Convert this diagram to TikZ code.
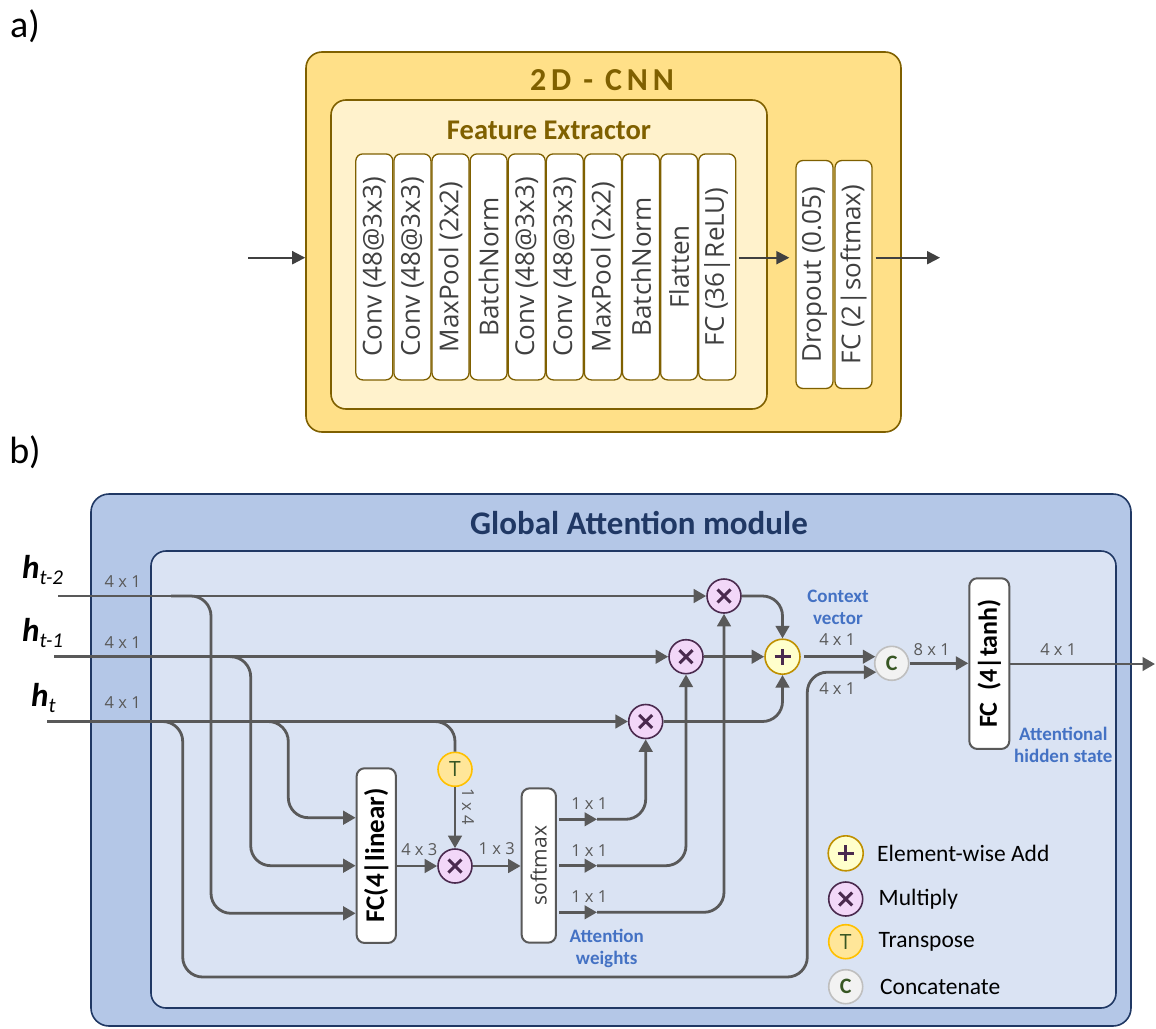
\documentclass[tikz,border=0pt]{standalone}
\usepackage{fontspec}
\setmainfont{Carlito}
\newfontfamily\labfont{Open Sans}
\newfontfamily\titlefont[LetterSpace=15]{Carlito}
\usetikzlibrary{arrows.meta,calc}

\definecolor{cnnfill}{HTML}{FFE088}
\definecolor{cnnline}{HTML}{7F6000}
\definecolor{fefill}{HTML}{FFF2CC}
\definecolor{txtgray}{HTML}{404040}
\definecolor{lgray}{HTML}{595959}
\definecolor{gafill}{HTML}{B4C7E7}
\definecolor{gainner}{HTML}{DAE3F3}
\definecolor{navy}{HTML}{203864}
\definecolor{lblue}{HTML}{4472C4}
\definecolor{mulfill}{HTML}{F2D7F8}
\definecolor{mulline}{HTML}{4A2A4E}
\definecolor{addfill}{HTML}{FFFFCC}
\definecolor{addline}{HTML}{BF9000}
\definecolor{trfill}{HTML}{FFE699}
\definecolor{trline}{HTML}{FFC000}
\definecolor{catfill}{HTML}{F2F2F2}
\definecolor{catline}{HTML}{BFBFBF}
\definecolor{dgreen}{HTML}{375623}

\tikzset{
  panel/.style={font=\fontsize{38}{38}\selectfont, inner sep=0pt},
  layerbox/.style={draw=cnnline, fill=white, line width=1.3pt, rounded corners=7pt,
    rotate=90, minimum width=226pt, minimum height=37pt, inner sep=0pt,
    font=\labfont\fontsize{26}{26}\selectfont, text=txtgray},
  headbox/.style={draw=cnnline, fill=white, line width=1.3pt, rounded corners=7pt,
    rotate=90, minimum width=228pt, minimum height=37pt, inner sep=0pt,
    font=\labfont\fontsize{26}{26}\selectfont, text=txtgray},
  arrA/.style={draw=txtgray, line width=2pt, -{Triangle[length=13pt,width=13pt]}},
  conn/.style={draw=lgray, line width=2.8pt, rounded corners=20pt},
  arr/.style={-{Triangle[length=12.5pt,width=13.5pt]}},
  opbox/.style={draw=lgray, fill=white, line width=2pt, rounded corners=8pt,
    rotate=90, inner sep=0pt},
  dim/.style={font=\labfont\fontsize{16.5}{16.5}\selectfont, text=lgray, inner sep=0pt},
  note/.style={font=\bfseries\fontsize{19}{22}\selectfont, text=lblue, align=center, inner sep=0pt},
  mul/.style={circle, draw=mulline, fill=mulfill, line width=1.6pt, minimum size=34pt, inner sep=0pt,
    path picture={
      \draw[mulline, line width=3pt]
        ([shift={(-6.5pt,-6.5pt)}]path picture bounding box.center) -- ([shift={(6.5pt,6.5pt)}]path picture bounding box.center)
        ([shift={(-6.5pt,6.5pt)}]path picture bounding box.center) -- ([shift={(6.5pt,-6.5pt)}]path picture bounding box.center);}},
  add/.style={circle, draw=addline, fill=addfill, line width=1.6pt, minimum size=35pt, inner sep=0pt,
    path picture={
      \draw[mulline, line width=3pt]
        ([shift={(-8pt,0pt)}]path picture bounding box.center) -- ([shift={(8pt,0pt)}]path picture bounding box.center)
        ([shift={(0pt,-8pt)}]path picture bounding box.center) -- ([shift={(0pt,8pt)}]path picture bounding box.center);}},
  trn/.style={circle, draw=trline, fill=trfill, line width=1.6pt, minimum size=34pt, inner sep=0pt,
    font=\labfont\fontsize{21}{21}\selectfont, text=dgreen},
  cat/.style={circle, draw=catline, fill=catfill, line width=1.6pt, minimum size=34pt, inner sep=0pt,
    font=\bfseries\fontsize{22}{22}\selectfont, text=dgreen},
  legtext/.style={anchor=west, inner sep=0pt, font=\fontsize{23.5}{23.5}\selectfont, text=black},
}

\begin{document}
\begin{tikzpicture}[x=1pt,y=-1pt]
\useasboundingbox (0,0) rectangle (1156,1028);

% ---------------- a) 2D-CNN ----------------
\node[panel] (pa) at (25,26) {a)};
\node[draw=cnnline, fill=cnnfill, line width=1.6pt, rounded corners=16pt,
      minimum width=595pt, minimum height=380pt, inner sep=0pt] (cnn) at (603.5,242) {};
\node[font=\titlefont\bfseries\fontsize{32}{32}\selectfont, text=cnnline, inner sep=0pt] (cnntitle) at (602,80) {2D - CNN};
\node[draw=cnnline, fill=fefill, line width=1.6pt, rounded corners=15pt,
      minimum width=436pt, minimum height=309pt, inner sep=0pt] (fe) at (549,254.5) {};
\node[font=\bfseries\fontsize{28.5}{28.5}\selectfont, text=cnnline, inner sep=0pt] (fetitle) at (549,130) {Feature Extractor};

\foreach \lbl [count=\i from 0] in {Conv (48@3x3),Conv (48@3x3),MaxPool (2x2),BatchNorm,Conv (48@3x3),Conv (48@3x3),MaxPool (2x2),BatchNorm,Flatten,FC (36|ReLU)}
  \node[layerbox] (L\i) at (374.3+38.1*\i,266.9) {\lbl};

\node[headbox] (drop) at (814.5,274.5) {Dropout (0.05)};
\node[headbox] (fc2) at (853.5,274.5) {FC (2|softmax)};

\coordinate (ya) at (0,257.7);
\coordinate (ain) at (248,257.7);
\coordinate (aout) at (940,257.7);
\draw[arrA] (ain) -- (cnn.west |- ya);
\draw[arrA] ([xshift=3pt]L9.south |- ya) -- ([xshift=-6pt]drop.north |- ya);
\draw[arrA] ([xshift=3pt]fc2.south |- ya) -- (aout);

% ---------------- b) Global attention ----------------
\node[panel] (pb) at (25,452) {b)};
\node[draw=navy, fill=gafill, line width=1.6pt, rounded corners=18pt,
      minimum width=1040pt, minimum height=532pt, inner sep=0pt] (ga) at (611,760) {};
\node[font=\bfseries\fontsize{33}{33}\selectfont, text=navy, inner sep=0pt] (gatitle) at (639,523) {Global Attention module};
\node[draw=navy, fill=gainner, line width=1.6pt, rounded corners=15pt,
      minimum width=965pt, minimum height=457pt, inner sep=0pt] (gin) at (633.5,779.5) {};

% inputs
\node[anchor=base west, inner sep=0pt] (h2) at (22,578)
  {\fontsize{33}{33}\selectfont\bfseries\itshape h\raisebox{-6pt}{\mdseries\fontsize{21}{21}\selectfont t-2}};
\node[anchor=base west, inner sep=0pt] (h1) at (22,641.5)
  {\fontsize{33}{33}\selectfont\bfseries\itshape h\raisebox{-6pt}{\mdseries\fontsize{21}{21}\selectfont t-1}};
\node[anchor=base west, inner sep=0pt] (h0) at (31,706.5)
  {\fontsize{33}{33}\selectfont\bfseries\itshape h\raisebox{-6pt}{\mdseries\fontsize{21}{21}\selectfont t}};
\node[dim] (d2) at (122.7,582) {4 x 1};
\node[dim] (d1) at (122.7,643) {4 x 1};
\node[dim] (d0) at (122.7,703) {4 x 1};

\coordinate (s2) at (58,596);
\coordinate (s1) at (54,656.7);
\coordinate (s0) at (47,721.5);

% operators
\node[mul] (m2) at (724,596) {};
\node[mul] (m1) at (686,656.7) {};
\node[mul] (m0) at (645.7,721.5) {};
\node[add] (pl) at (782.5,656.7) {};
\node[cat] (cc) at (891.7,663.3) {C};
\node[trn] (tt) at (455,769.3) {T};
\node[mul] (mx) at (455,866) {};

\node[opbox, minimum width=174.7pt, minimum height=39.3pt,
      font=\bfseries\fontsize{27}{27}\selectfont, text=black] (fcl) at (376.3,855.6) {FC(4|linear)};
\node[opbox, minimum width=154.4pt, minimum height=34.3pt,
      font=\labfont\fontsize{21}{21}\selectfont, text=txtgray] (sm) at (538.8,865.5) {softmax};
\node[opbox, minimum width=170.7pt, minimum height=40pt,
      font=\bfseries\fontsize{26}{26}\selectfont, text=black] (fct) at (989.3,663.6) {FC\ \ (4|tanh)};

% main input lines
\draw[conn,arr] (s2) -- (m2.west);
\draw[conn,arr] (s1) -- (m1.west);
\draw[conn,arr] (s0) -- (m0.west);

% branches into the scoring layer
\coordinate (b2) at (171,596);
\coordinate (b1) at (230,656.7);
\coordinate (b0a) at (268,721.5);
\coordinate (b0b) at (162,721.5);
\coordinate (b0t) at (435,721.5);
\draw[conn,arr] (b2) -- (211,596) -- (211,913.3) -- (fcl.north |- 0,913.3);
\draw[conn,arr] (b1) -- (250.7,656.7) -- (250.7,865.7) -- (fcl.north |- 0,865.7);
\draw[conn,arr] (b0a) -- (288.3,721.5) -- (288.3,817.7) -- (fcl.north |- 0,817.7);
\draw[conn] (b0t) -| (tt.north);
\draw[conn,arr] (tt.south) -- (mx.north);
\node[dim, rotate=-90] (d14) at (468,807) {1 x 4};

% score and softmax
\draw[conn,arr] (fcl.south |- mx) -- (mx.west);
\node[dim] (d43) at (419.3,849.5) {4 x 3};
\draw[conn,arr] (mx.east) -- (mx.east -| sm.north);
\node[dim] (d13) at (496.7,849) {1 x 3};

% attention weights
\coordinate (w0) at (559,819.3);
\coordinate (w0m) at (597,819.3);
\coordinate (w1) at (559,865.7);
\coordinate (w1m) at (597,865.7);
\coordinate (w2) at (559,912.3);
\coordinate (w2m) at (597,912.3);
\draw[conn,arr] (w0) -- (w0m);
\draw[conn,arr] (w0m) -| (m0.south);
\draw[conn,arr] (w1) -- (w1m);
\draw[conn,arr] (w1m) -| (m1.south);
\draw[conn,arr] (w2) -- (w2m);
\draw[conn,arr] (w2m) -| (m2.south);
\node[dim] (d11a) at (589.3,803.5) {1 x 1};
\node[dim] (d11b) at (589.3,850.2) {1 x 1};
\node[dim] (d11c) at (589.3,896.8) {1 x 1};
\node[note] (aw) at (606.7,948) {Attention\\weights};

% context vector
\draw[conn,arr] (m2.east) -| (pl.north);
\draw[conn,arr] (m1.east) -- (pl.west);
\draw[conn,arr] (m0.east) -| (pl.south);
\node[note] (cv) at (838,607) {Context\\vector};
\draw[conn,arr] ([xshift=3pt]pl.east) -- (pl.east -| cc.157);
\node[dim] (dc1) at (837.3,640) {4 x 1};

% skip connection of h_t to the concatenation
\draw[conn,arr] (b0b) -- (182.7,721.5) -- (182.7,977) -- (807.3,977) |- (cc.210);
\node[dim] (dc2) at (837.3,688.3) {4 x 1};

% output layer
\draw[conn,arr] (cc.east) -- (cc.east -| fct.north);
\node[dim] (d81) at (931.7,650) {8 x 1};
\coordinate (gout) at (1155,664);
\draw[conn,arr] (fct.south |- gout) -- (gout);
\node[dim] (dout) at (1058.3,649.3) {4 x 1};
\node[note] (ahs) at (1063.3,745) {Attentional\\hidden state};

% legend
\node[add] (lp) at (845.7,853.3) {};
\node[legtext] (lpt) at (877,853.3) {Element-wise Add};
\node[mul] (lm) at (845.7,899) {};
\node[legtext] (lmt) at (878.5,899) {Multiply};
\node[trn] (lt) at (845.7,941.7) {T};
\node[legtext] (ltt) at (878.5,941.7) {Transpose};
\node[cat] (lc) at (845.7,986.7) {C};
\node[legtext] (lct) at (880,986.7) {Concatenate};
\end{tikzpicture}
\end{document}
